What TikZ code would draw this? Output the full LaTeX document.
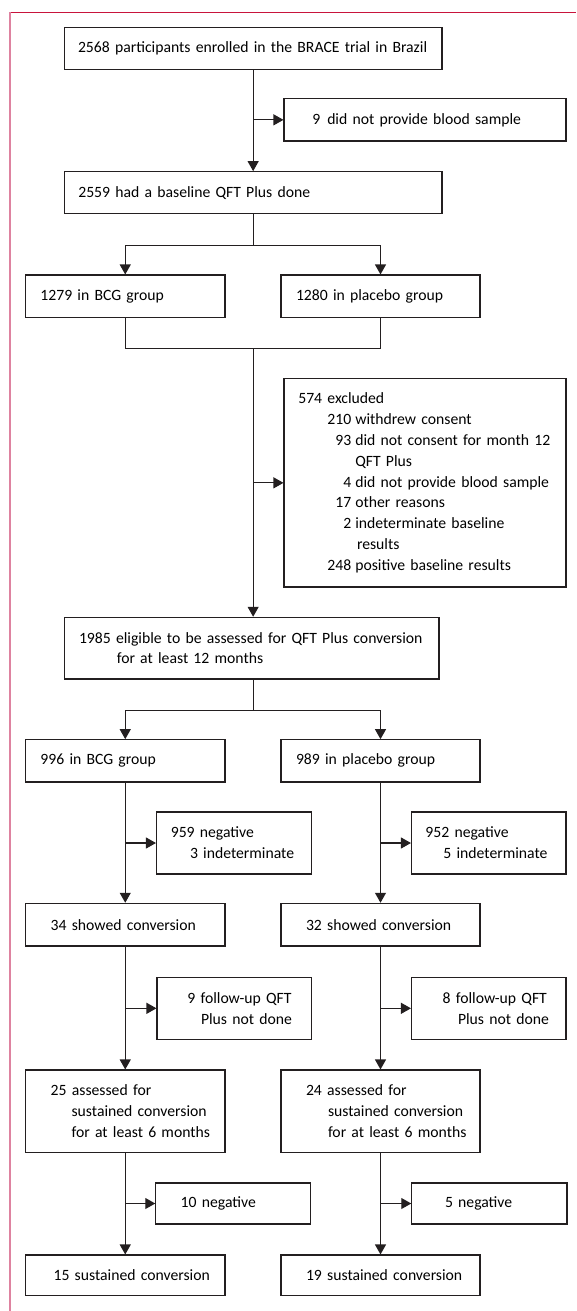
\documentclass[tikz,border=0pt]{standalone}
\usepackage{fontspec}
\setmainfont{Carlito}
\usetikzlibrary{arrows.meta}
\definecolor{ink}{RGB}{35,31,32}
\definecolor{frametop}{RGB}{200,20,60}
\definecolor{frameleft}{RGB}{222,130,160}
\tikzset{
  box/.style={draw=ink, line width=1.1pt, inner sep=0pt, align=left,
    font=\fontsize{15.7}{20.8}\selectfont},
  conn/.style={draw=ink, line width=1.1pt},
  arr/.style={conn, -{Triangle[length=10pt,width=11pt]}}
}
% #1 name, #2 x1, #3 y1, #4 x2, #5 y2, #6 text start x, #7 text
\newcommand\fbx[7]{%
  \pgfmathsetmacro\bw{#4-#2}%
  \pgfmathsetmacro\bh{#5-#3}%
  \pgfmathsetmacro\bl{#6-#2}%
  \node[box, minimum width=\bw pt, minimum height=\bh pt, text width=\bw pt]
    (#1) at ({(#2+#4)/2},{(#3+#5)/2}) {\leftskip=\bl pt\relax #7\par};}
\newcommand\nm[1]{\makebox[53pt][r]{#1}\hspace{4pt}}
\begin{document}
\begin{tikzpicture}[x=1pt,y=-1pt]
\useasboundingbox (0,0) rectangle (576,1311);
% frame
\draw[frametop, line width=1.2pt] (9,12.3) -- (576,12.3);
\draw[frameleft, line width=2pt] (10,12.3) -- (10,1311);
% boxes
\fbx{enrol}{64.3}{27.3}{442}{69.7}{78}{2568 participants enrolled in the BRACE trial in Brazil}
\fbx{noblood}{284}{98.7}{566}{141}{312.3}{9\hspace{7pt}did not provide blood sample}
\fbx{baseline}{64.3}{171.7}{442}{213.7}{78.3}{2559 had a baseline QFT Plus done}
\fbx{bcga}{25.5}{275}{225}{317.7}{40.4}{1279 in BCG group}
\fbx{plaa}{281}{275}{480}{317.7}{296}{1280 in placebo group}
\fbx{excl}{284}{378.7}{566}{587}{298.3}{574 excluded\\
\nm{210}withdrew consent\\
\nm{93}did not consent for month 12\\
\hspace*{57pt}QFT Plus\\
\nm{4}did not provide blood sample\\
\nm{17}other reasons\\
\nm{2}indeterminate baseline\\
\hspace*{58.7pt}results\\
\nm{248}positive baseline results}
\fbx{elig}{64.3}{617.3}{439}{679}{79}{1985 eligible to be assessed for QFT Plus conversion\\
\hspace*{37.8pt}for at least 12 months}
\fbx{bcgb}{25.5}{739.7}{225}{782}{40.4}{996 in BCG group}
\fbx{plab}{281}{739.7}{480}{782}{296}{989 in placebo group}
\fbx{nega}{156.5}{812}{311.5}{874}{170.8}{959 negative\\\hspace*{19.2pt}3 indeterminate}
\fbx{negb}{411.5}{812}{566}{874}{425.4}{952 negative\\\hspace*{18pt}5 indeterminate}
\fbx{conva}{25.5}{903.3}{225}{946}{50.7}{34 showed conversion}
\fbx{convb}{281}{903.3}{480}{946}{306}{32 showed conversion}
\fbx{fua}{157}{977.3}{311.5}{1039.3}{187.4}{9 follow-up QFT\\\hspace*{13.6pt}Plus not done}
\fbx{fub}{411.5}{977.3}{566}{1039.3}{442.7}{8 follow-up QFT\\\hspace*{15.3pt}Plus not done}
\fbx{assa}{25.5}{1070}{225}{1152.3}{50.7}{25 assessed for\\\hspace*{20.9pt}sustained conversion\\\hspace*{20.9pt}for at least 6 months}
\fbx{assb}{281}{1070}{480}{1152.3}{306}{24 assessed for\\\hspace*{22pt}sustained conversion\\\hspace*{22pt}for at least 6 months}
\fbx{nten}{155.8}{1183}{310.4}{1224}{180.7}{10 negative}
\fbx{nfive}{411.8}{1183}{567}{1224}{445}{5 negative}
\fbx{susa}{25.5}{1255}{225}{1295.7}{53.6}{15 sustained conversion}
\fbx{susb}{281}{1255}{480}{1295.7}{306}{19 sustained conversion}
% connectors
\draw[arr] (enrol.south) -- (baseline.north);
\draw[arr] (enrol.south |- noblood.west) -- (noblood.west);
\draw[conn] (baseline.south) -- ++(0,31.3) coordinate (sa);
\draw[arr] (sa) -| (bcga.north);
\draw[arr] (sa) -| (plaa.north);
\draw[conn] (bcga.south) -- ++(0,30) coordinate (ba) -| (plaa.south);
\draw[arr] (ba -| enrol.south) -- (elig.north -| enrol.south);
\draw[arr] (enrol.south |- excl.west) -- (excl.west);
\draw[conn] (elig.south -| enrol.south) -- ++(0,31) coordinate (sb);
\draw[arr] (sb) -| (bcgb.north);
\draw[arr] (sb) -| (plab.north);
\draw[arr] (bcgb.south) -- (conva.north);
\draw[arr] (bcgb.south |- nega.west) -- (nega.west);
\draw[arr] (plab.south) -- (convb.north);
\draw[arr] (plab.south |- negb.west) -- (negb.west);
\draw[arr] (conva.south) -- (assa.north);
\draw[arr] (conva.south |- fua.west) -- (fua.west);
\draw[arr] (convb.south) -- (assb.north);
\draw[arr] (convb.south |- fub.west) -- (fub.west);
\draw[arr] (assa.south) -- (susa.north);
\draw[arr] (assa.south |- nten.west) -- (nten.west);
\draw[arr] (assb.south) -- (susb.north);
\draw[arr] (assb.south |- nfive.west) -- (nfive.west);
\end{tikzpicture}
\end{document}
